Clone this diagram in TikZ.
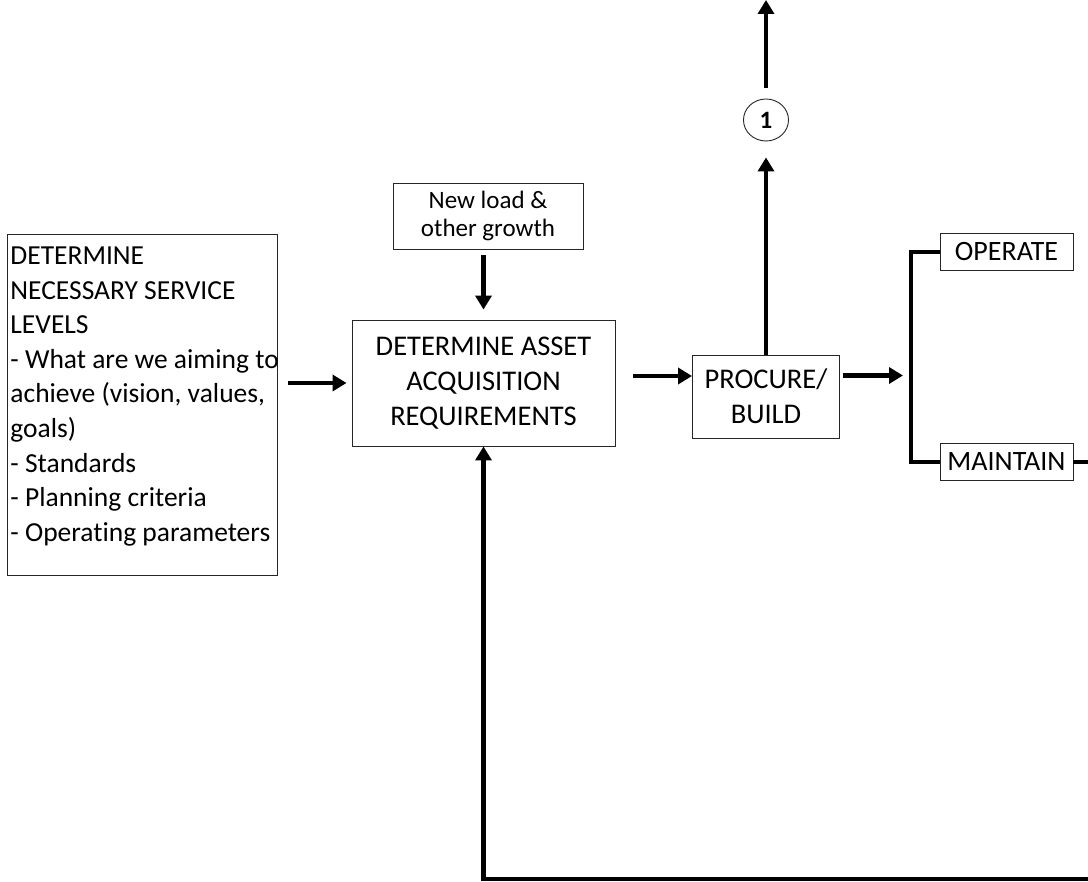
\documentclass[tikz,border=0pt]{standalone}
\usepackage{fontspec}
\setmainfont{Carlito}[Ligatures=NoCommon]
\usetikzlibrary{arrows.meta,shapes.geometric}
\begin{document}
\begin{tikzpicture}[x=1pt,y=-1pt,
  every node/.style={text=black},
  box/.style={draw=black!85, line width=0.9pt, inner sep=0pt, align=center,
    font=\fontsize{28.5}{35}\selectfont},
  flow/.style={line width=4.5pt, -{Triangle[length=14pt,width=16pt]}},
  link/.style={line width=4.5pt, line join=miter}]
\useasboundingbox (0,0) rectangle (1088,882);
\clip (0,0) rectangle (1088,882);

% service levels box
\node[draw=black!85, line width=0.9pt, inner sep=0pt, anchor=north west,
  font=\fontsize{27.5}{34.6}\selectfont] (levels) at (7,234)
  {\begin{minipage}[t][341pt][t]{270pt}\raggedright\hspace*{3pt}%
   \rule{0pt}{30pt}\mbox{DETERMINE}\\
   \hspace*{3pt}\mbox{NECESSARY SERVICE}\\
   \hspace*{3pt}\mbox{LEVELS}\\
   \hspace*{3pt}\mbox{- What are we aiming to}\\
   \hspace*{3pt}\mbox{achieve (vision, values,}\\
   \hspace*{3pt}\mbox{goals)}\\
   \hspace*{3pt}\mbox{- Standards}\\
   \hspace*{3pt}\mbox{- Planning criteria}\\
   \hspace*{3pt}\mbox{- Operating parameters}
   \end{minipage}};

% process boxes
\node[box, minimum width=190pt, minimum height=66pt,
  font=\fontsize{25}{28.5}\selectfont] (load) at (488,216) {New load \&\\other growth};
\node[box, minimum width=263pt, minimum height=126pt] (daar) at (483.5,383)
  {DETERMINE ASSET\\ACQUISITION\\REQUIREMENTS};
\node[box, minimum width=147pt, minimum height=83pt] (procure) at (766,396.5)
  {PROCURE/\\BUILD};
\node[box, minimum width=133pt, minimum height=37pt,
  font=\fontsize{28}{32}\selectfont] (operate) at (1006.5,252) {OPERATE};
\node[box, minimum width=133pt, minimum height=37pt,
  font=\fontsize{28}{32}\selectfont] (maintain) at (1006.5,462) {MAINTAIN};
\node[ellipse, draw=black!85, line width=0.9pt, minimum width=45pt, minimum height=42pt,
  inner sep=0pt, font=\fontsize{25}{27}\selectfont\bfseries] (one) at (766,120) {1};

\coordinate (exit) at (766,0);
\coordinate (bx) at (911,0);
\coordinate (fbr) at (1100,879);

% connectors
\draw[flow, shorten <=10pt, shorten >=5pt] (levels.east |- daar.west) -- (daar.west);
\draw[flow, shorten <=6pt, shorten >=10pt] (load.south -| daar.north) -- (daar.north);
\coordinate (a2) at ([yshift=7pt]daar.east);
\draw[flow, shorten <=18pt] (a2) -- (a2 -| procure.west);
\coordinate (a3) at ([yshift=21pt]procure.east);
\draw[flow, shorten <=3pt, shorten >=8pt] (a3) -- (a3 -| bx);
\draw[flow, shorten >=16pt] (procure.north) -- (one.south);
\draw[flow, shorten <=11pt] (one.north) -- (exit);

% split to operate / maintain
\draw[link] (operate.west) -- (operate.west -| bx) -- (maintain.west -| bx) -- (maintain.west);

% feedback loop back to acquisition requirements
\draw[flow, line join=miter] (maintain.east) -- (maintain.east -| fbr) -- (fbr)
  -- (fbr -| daar.south) -- (daar.south);
\end{tikzpicture}
\end{document}
